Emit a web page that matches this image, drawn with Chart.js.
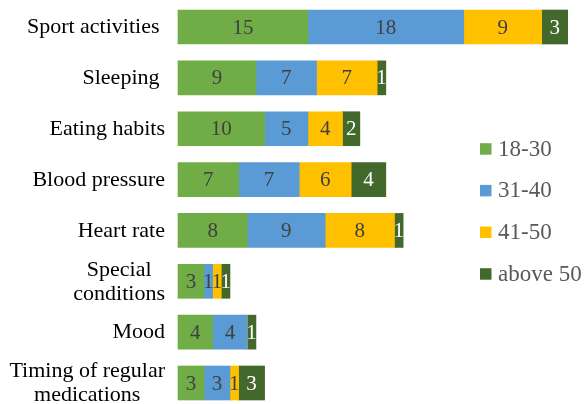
<!DOCTYPE html>
<html>
<head>
<meta charset="utf-8">
<script src="https://cdn.jsdelivr.net/npm/chart.js@4/dist/chart.umd.min.js"></script>
<style>
  html, body { margin: 0; padding: 0; background: #ffffff; }
  #wrap { width: 586px; height: 404px; position: relative; }
</style>
</head>
<body>
<div id="wrap"><canvas id="c" width="586" height="404"></canvas></div>
<script>
// Survey topics (rows) and counts per age group
const categories = [
  ['Sport activities '],
  ['Sleeping '],
  ['Eating habits'],
  ['Blood pressure'],
  ['Heart rate'],
  ['Special', 'conditions'],
  ['Mood'],
  ['Timing of regular', 'medications']
];
const seriesNames = ['18-30', '31-40', '41-50', 'above 50'];
const age18to30 = [15, 9, 10, 7, 8, 3, 4, 3];
const age31to40 = [18, 7, 5, 7, 9, 1, 4, 3];
const age41to50 = [9, 7, 4, 6, 8, 1, 0, 1];
const ageAbove50 = [3, 1, 2, 4, 1, 1, 1, 3];

const seriesColors = ['#70AD47', '#5B9BD5', '#FFC000', '#43682B'];
const labelColors = ['#404040', '#404040', '#404040', '#ffffff'];

const SERIF = '"Liberation Serif", "Times New Roman", serif';

// Segment values written in the middle of each bar piece
const segmentLabels = {
  id: 'segmentLabels',
  afterDatasetsDraw(chart) {
    const ctx = chart.ctx;
    ctx.save();
    ctx.font = '21px ' + SERIF;
    ctx.textAlign = 'center';
    ctx.textBaseline = 'middle';
    chart.data.datasets.forEach((ds, di) => {
      const meta = chart.getDatasetMeta(di);
      meta.data.forEach((bar, i) => {
        const v = ds.data[i];
        if (!v) return;
        const p = bar.getProps(['x', 'y', 'base'], true);
        ctx.fillStyle = labelColors[di];
        ctx.fillText(String(v), (p.x + p.base) / 2, p.y + 1);
      });
    });
    ctx.restore();
  }
};

// Row names on the left; lines of a wrapped name are centred on each other
const rowNames = {
  id: 'rowNames',
  afterDraw(chart) {
    const ctx = chart.ctx;
    const yScale = chart.scales.y;
    const right = chart.chartArea.left - 13;
    const lineH = 24;
    ctx.save();
    ctx.font = '22px ' + SERIF;
    ctx.fillStyle = '#000000';
    ctx.textBaseline = 'middle';
    ctx.textAlign = 'center';
    categories.forEach((lines, i) => {
      const cy = yScale.getPixelForTick(i);
      const maxW = Math.max(...lines.map(l => ctx.measureText(l).width));
      const cx = right - maxW / 2;
      const top = cy - (lines.length - 1) * lineH / 2;
      lines.forEach((l, k) => ctx.fillText(l, cx, top + k * lineH + 0.5));
    });
    ctx.restore();
  }
};

// Legend placed over the empty right part of the plot
const sideLegend = {
  id: 'sideLegend',
  afterDraw(chart) {
    const ctx = chart.ctx;
    ctx.save();
    ctx.font = '23px ' + SERIF;
    ctx.textBaseline = 'middle';
    ctx.textAlign = 'left';
    chart.data.datasets.forEach((ds, i) => {
      const cy = 148.7 + i * 41.67;
      ctx.fillStyle = ds.backgroundColor;
      ctx.fillRect(480, cy - 5.5, 11.5, 11.5);
      ctx.fillStyle = '#595959';
      ctx.fillText(ds.label, 498, cy + 1);
    });
    ctx.restore();
  }
};

const values = [age18to30, age31to40, age41to50, ageAbove50];

new Chart(document.getElementById('c'), {
  type: 'bar',
  data: {
    labels: categories,
    datasets: values.map((d, i) => ({
      label: seriesNames[i],
      data: d,
      backgroundColor: seriesColors[i],
      borderWidth: 0,
      barThickness: 34,
      clip: false
    }))
  },
  options: {
    indexAxis: 'y',
    responsive: false,
    animation: false,
    layout: { padding: { left: 178, right: 1, top: 27, bottom: 21 } },
    plugins: {
      legend: { display: false },
      tooltip: { enabled: false }
    },
    scales: {
      x: { stacked: true, min: 0, max: 47, display: false },
      y: { stacked: true, offset: false, display: false }
    }
  },
  plugins: [segmentLabels, rowNames, sideLegend]
});
</script>
</body>
</html>
